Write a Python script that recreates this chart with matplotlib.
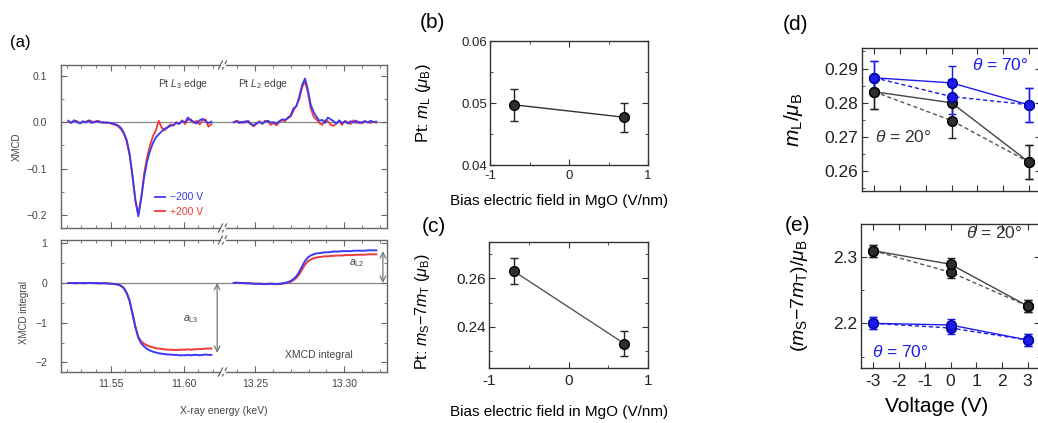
import numpy as np
import matplotlib
matplotlib.use('Agg')
import matplotlib.pyplot as plt
from matplotlib.ticker import MultipleLocator
from matplotlib.lines import Line2D

plt.rcParams['font.family'] = ['Liberation Sans', 'DejaVu Sans']
plt.rcParams['mathtext.fontset'] = 'custom'
plt.rcParams['mathtext.rm'] = 'Liberation Sans'
plt.rcParams['mathtext.it'] = 'Liberation Sans:italic'
plt.rcParams['mathtext.bf'] = 'Liberation Sans:bold'
plt.rcParams['axes.unicode_minus'] = False

W, H = 1038, 423

# ---- (a) XMCD spectra, Pt L3 and L2 edges ----
energy_l3 = np.linspace(11.521, 11.619, 50)
energy_l2 = np.linspace(13.238, 13.318, 51)

xmcd_l3_neg = [0.003, -0.002, 0.004, 0.000, -0.003, 0.002, -0.001, 0.003, -0.002, 0.001,
               0.002, -0.001, 0.000, -0.002, -0.001, -0.003, -0.004, -0.007, -0.012, -0.022,
               -0.038, -0.068, -0.115, -0.170, -0.203, -0.165, -0.118, -0.085, -0.062, -0.045,
               -0.033, -0.026, -0.020, -0.014, -0.012, -0.008, -0.006, -0.002, -0.004, 0.002,
               0.000, 0.010, 0.003, 0.001, -0.003, 0.004, 0.007, 0.002, -0.002, 0.001]
xmcd_l3_pos = [0.001, -0.001, 0.003, 0.002, -0.002, 0.000, 0.001, 0.004, 0.002, -0.001,
               0.003, 0.001, -0.002, 0.000, -0.002, -0.004, -0.006, -0.009, -0.015, -0.025,
               -0.042, -0.072, -0.118, -0.168, -0.198, -0.160, -0.110, -0.075, -0.050, -0.030,
               -0.018, 0.003, -0.012, -0.018, -0.010, -0.005, -0.008, 0.000, -0.003, 0.004,
               -0.004, 0.005, 0.006, -0.002, 0.003, -0.005, 0.004, 0.006, -0.010, -0.004]
xmcd_l2_neg = [0.000, 0.002, -0.002, 0.001, -0.001, 0.003, -0.004, -0.007, -0.002, 0.000,
               -0.003, 0.001, 0.003, -0.001, 0.000, -0.003, 0.002, 0.006, 0.005, 0.008,
               0.015, 0.030, 0.034, 0.055, 0.080, 0.094, 0.070, 0.038, 0.022, 0.012,
               0.003, 0.005, -0.002, 0.010, 0.006, 0.002, -0.003, 0.004, -0.002, 0.001,
               -0.003, 0.002, -0.001, 0.003, -0.002, 0.000, 0.002, -0.001, 0.003, 0.000, 0.001]
xmcd_l2_pos = [-0.001, 0.003, 0.001, -0.002, 0.002, 0.000, -0.005, -0.009, -0.004, 0.002,
               -0.004, 0.003, 0.001, -0.006, -0.002, -0.007, 0.000, 0.004, 0.002, 0.010,
               0.012, 0.025, 0.036, 0.050, 0.075, 0.088, 0.064, 0.030, 0.012, 0.006,
               -0.002, -0.006, 0.004, 0.002, -0.006, -0.008, -0.003, 0.002, -0.006, 0.003,
               0.000, -0.004, 0.004, -0.002, 0.001, -0.003, 0.002, 0.000, -0.002, 0.001, -0.001]

int_l3_neg = [0.00, 0.00, -0.01, 0.00, 0.00, -0.01, 0.00, 0.00, 0.00, -0.01,
              0.00, -0.01, -0.01, -0.01, -0.02, -0.02, -0.03, -0.04, -0.07, -0.13,
              -0.25, -0.45, -0.78, -1.12, -1.38, -1.52, -1.60, -1.66, -1.70, -1.73,
              -1.75, -1.77, -1.78, -1.79, -1.80, -1.80, -1.81, -1.81, -1.82, -1.82,
              -1.82, -1.81, -1.82, -1.81, -1.81, -1.82, -1.81, -1.80, -1.81, -1.81]
int_l3_pos = [0.00, 0.00, 0.00, -0.01, 0.00, 0.00, -0.01, 0.00, 0.00, 0.00,
              -0.01, -0.01, 0.00, -0.01, -0.01, -0.02, -0.03, -0.04, -0.07, -0.13,
              -0.25, -0.45, -0.77, -1.10, -1.36, -1.47, -1.53, -1.57, -1.60, -1.62,
              -1.64, -1.65, -1.66, -1.67, -1.68, -1.68, -1.68, -1.69, -1.68, -1.68,
              -1.68, -1.67, -1.68, -1.67, -1.67, -1.66, -1.66, -1.65, -1.65, -1.65]
int_l2_neg = [0.00, 0.00, 0.00, 0.00, -0.01, -0.01, -0.01, -0.02, -0.02, -0.02,
              -0.03, -0.03, -0.02, -0.02, -0.02, -0.03, -0.02, -0.01, 0.00, 0.02,
              0.05, 0.10, 0.17, 0.28, 0.42, 0.55, 0.64, 0.69, 0.72, 0.74,
              0.75, 0.76, 0.77, 0.77, 0.78, 0.79, 0.79, 0.79, 0.80, 0.80,
              0.80, 0.80, 0.81, 0.81, 0.81, 0.81, 0.81, 0.82, 0.82, 0.82, 0.82]
int_l2_pos = [0.00, 0.01, 0.00, 0.00, 0.00, -0.01, -0.01, -0.02, -0.02, -0.02,
              -0.02, -0.03, -0.03, -0.02, -0.03, -0.03, -0.03, -0.02, -0.01, 0.01,
              0.03, 0.07, 0.13, 0.22, 0.34, 0.46, 0.54, 0.59, 0.62, 0.64,
              0.65, 0.66, 0.67, 0.67, 0.68, 0.68, 0.69, 0.69, 0.69, 0.70,
              0.70, 0.70, 0.70, 0.71, 0.71, 0.71, 0.71, 0.72, 0.72, 0.72, 0.72]

a_l3 = -1.76
a_l2 = 0.80

# ---- (b), (c) Pt moments vs bias field ----
field = [-0.69, 0.70]
pt_ml = [0.0497, 0.0477]
pt_ml_err = [0.0026, 0.0023]
pt_ms = [0.2630, 0.2331]
pt_ms_err = [0.0053, 0.0050]

# ---- (d), (e) moments vs gate voltage ----
voltage = [-3, 0, 3]
ml_20_solid = [0.2832, 0.2800, 0.2627]
ml_20_dash = [0.2832, 0.2748, 0.2627]
ml_70_solid = [0.2873, 0.2858, 0.2794]
ml_70_dash = [0.2873, 0.2818, 0.2794]
ml_err = 0.005
ms_20_solid = [2.309, 2.2886, 2.226]
ms_20_dash = [2.309, 2.2766, 2.226]
ms_70_solid = [2.200, 2.1975, 2.175]
ms_70_dash = [2.200, 2.193, 2.175]
ms_err = 0.009

BLUE_A = '#3a3af2'
RED_A = '#f03a3a'
GRAY_A = '#666666'
BLUE = '#1c1ce8'
DARK = '#2e2e2e'

fig = plt.figure(figsize=(W / 100, H / 100), dpi=100)


def add_ax(l, t, r, b, **kw):
    return fig.add_axes([l / W, 1 - b / H, (r - l) / W, (b - t) / H], **kw)


def style_pair(ax_l, ax_r):
    for ax in (ax_l, ax_r):
        for s in ax.spines.values():
            s.set_color(GRAY_A)
            s.set_linewidth(1.0)
        ax.tick_params(which='both', direction='in', top=True, bottom=True,
                       color=GRAY_A, labelcolor='#444444', labelsize=7.5)
        ax.tick_params(which='major', length=4)
        ax.tick_params(which='minor', length=2)
        ax.xaxis.set_minor_locator(MultipleLocator(0.01))
    ax_l.spines['right'].set_visible(False)
    ax_r.spines['left'].set_visible(False)
    ax_l.tick_params(axis='y', which='both', left=True, right=False, pad=10)
    ax_r.tick_params(axis='y', which='both', left=False, right=True,
                     labelleft=False, labelright=False)
    ax_l.tick_params(axis='x', pad=5)
    ax_r.tick_params(axis='x', pad=5)


def break_marks(xpx, ypx_list):
    for ypx in ypx_list:
        for dx in (-2.5, 1.5):
            x0 = (xpx + dx - 2) / W
            x1 = (xpx + dx + 2) / W
            y0 = 1 - (ypx + 4) / H
            y1 = 1 - (ypx - 4) / H
            fig.add_artist(Line2D([x0, x1], [y0, y1], color=GRAY_A, lw=0.9))
        fig.add_artist(Line2D([(xpx - 1.5) / W, (xpx + 0.5) / W],
                              [1 - ypx / H, 1 - ypx / H], color='white', lw=2))


# (a) top: XMCD
a1l = add_ax(61, 65, 223, 228)
a1r = add_ax(223, 65, 387, 228, sharey=a1l)
for ax, e, yn, yp in ((a1l, energy_l3, xmcd_l3_neg, xmcd_l3_pos),
                      (a1r, energy_l2, xmcd_l2_neg, xmcd_l2_pos)):
    ax.axhline(0, color='#888888', lw=0.9, zorder=1)
    ax.plot(e, yp, color=RED_A, lw=1.3, label='+200 V', zorder=2)
    ax.plot(e, yn, color=BLUE_A, lw=1.3, label='\u2212200 V', zorder=3)
a1l.set_xlim(11.516, 11.627)
a1r.set_xlim(13.232, 13.324)
a1l.set_ylim(-0.228, 0.123)
a1l.set_yticks([-0.2, -0.1, 0.0, 0.1], ['\u22120.2', '\u22120.1', '0.0', '0.1'])
a1l.yaxis.set_minor_locator(MultipleLocator(0.05))
for ax in (a1l, a1r):
    ax.set_xticks([11.55, 11.60] if ax is a1l else [13.25, 13.30])
    ax.tick_params(axis='x', labelbottom=False)
style_pair(a1l, a1r)
a1l.set_ylabel('XMCD', fontsize=7, color='#444444')
a1l.yaxis.set_label_coords(-0.24, 0.5)
a1l.text(11.5996, 0.083, r'Pt $L_3$ edge', fontsize=7.5, color='#444444', ha='center', va='center')
a1r.text(13.2545, 0.083, r'Pt $L_2$ edge', fontsize=7.5, color='#444444', ha='center', va='center')
h, l = a1l.get_legend_handles_labels()
a1l.legend(h[::-1], l[::-1], loc='lower left', bbox_to_anchor=(0.52, 0.01), frameon=False,
           fontsize=7.5, handlelength=1.0, handletextpad=0.5, labelspacing=0.45,
           labelcolor='linecolor')

# (a) bottom: XMCD integral
a2l = add_ax(61, 240, 223, 372)
a2r = add_ax(223, 240, 387, 372, sharey=a2l)
for ax, e, yn, yp in ((a2l, energy_l3, int_l3_neg, int_l3_pos),
                      (a2r, energy_l2, int_l2_neg, int_l2_pos)):
    ax.axhline(0, color='#888888', lw=0.9, zorder=1)
    ax.plot(e, yp, color=RED_A, lw=1.4, zorder=2)
    ax.plot(e, yn, color=BLUE_A, lw=1.4, zorder=3)
a2l.set_xlim(11.516, 11.627)
a2r.set_xlim(13.232, 13.324)
a2l.set_ylim(-2.24, 1.08)
a2l.set_yticks([-2, -1, 0, 1], ['\u22122', '\u22121', '0', '1'])
a2l.yaxis.set_minor_locator(MultipleLocator(0.5))
a2l.set_xticks([11.55, 11.60], ['11.55', '11.60'])
a2r.set_xticks([13.25, 13.30], ['13.25', '13.30'])
style_pair(a2l, a2r)
a2l.set_ylabel('XMCD integral', fontsize=7, color='#444444')
a2l.yaxis.set_label_coords(-0.2, 0.45)
fig.text(224 / W, 1 - 411 / H, 'X-ray energy (keV)', fontsize=7.5, color='#444444',
         ha='center', va='center')
a2l.annotate('', xy=(11.623, a_l3), xytext=(11.623, 0),
             arrowprops=dict(arrowstyle='<->', color='#777777', lw=0.9, shrinkA=0, shrinkB=0))
a2l.text(11.605, -0.9, r'$a_{\mathrm{L3}}$', fontsize=7.5, color='#444444', ha='center', va='center')
a2r.annotate('', xy=(13.3217, a_l2), xytext=(13.3217, 0),
             arrowprops=dict(arrowstyle='<->', color='#777777', lw=0.9, shrinkA=0, shrinkB=0))
a2r.text(13.307, 0.5, r'$a_{\mathrm{L2}}$', fontsize=7.5, color='#444444', ha='center', va='center')
a2r.text(13.286, -1.81, 'XMCD integral', fontsize=7.5, color='#444444', ha='center', va='center')

break_marks(223, [65, 228, 240, 372])
fig.text(10 / W, 1 - 42 / H, '(a)', fontsize=12, ha='left', va='center')


def style_box(ax, labelsize, pad_x, pad_y):
    for s in ax.spines.values():
        s.set_color('#333333')
        s.set_linewidth(1.0)
    ax.tick_params(which='both', direction='in', top=True, right=True, color='#333333',
                   labelcolor='#222222', labelsize=labelsize)
    ax.tick_params(which='major', length=4.5)
    ax.tick_params(which='minor', length=2.5)
    ax.tick_params(axis='x', pad=pad_x)
    ax.tick_params(axis='y', pad=pad_y)


def sphere_errorbar(ax, x, y, err, color, face, edge, ls, dashed=False):
    ax.plot(x, y, color=color, lw=1.0, ls=(0, (3, 2)) if dashed else '-', zorder=2)
    ax.errorbar(x, y, yerr=err, fmt='o', color=face, mfc=face, mec=edge, ms=7,
                ecolor=ls, elinewidth=1.0, capsize=3, capthick=1.0, zorder=3)


# (b) orbital moment
axb = add_ax(490, 41, 648, 165)
sphere_errorbar(axb, field, pt_ml, pt_ml_err, '#333333', DARK, '#000000', '#222222')
axb.set_xlim(-1, 1)
axb.set_ylim(0.04, 0.06)
axb.set_xticks([-1, 0, 1])
axb.set_yticks([0.04, 0.05, 0.06])
axb.xaxis.set_minor_locator(MultipleLocator(0.5))
axb.yaxis.set_minor_locator(MultipleLocator(0.005))
style_box(axb, 9.5, 3.5, 2)
axb.set_ylabel(r'Pt: $m_\mathrm{L}$ ($\mu_\mathrm{B}$)', fontsize=12)
axb.yaxis.set_label_coords(-0.36, 0.5)
axb.set_xlabel('Bias electric field in MgO (V/nm)', fontsize=11)
axb.xaxis.set_label_coords(0.437, -0.235)
fig.text(420 / W, 1 - 23 / H, '(b)', fontsize=15, ha='left', va='center')

# (c) effective spin moment
axc = add_ax(489, 242, 648, 368)
sphere_errorbar(axc, field, pt_ms, pt_ms_err, '#555555', DARK, '#000000', '#222222')
axc.set_xlim(-1, 1)
axc.set_ylim(0.223, 0.275)
axc.set_xticks([-1, 0, 1])
axc.set_yticks([0.24, 0.26])
axc.xaxis.set_minor_locator(MultipleLocator(0.5))
axc.yaxis.set_minor_locator(MultipleLocator(0.01))
style_box(axc, 11, 4, 2)
axc.set_ylabel(r'Pt: $m_\mathrm{S}$$-$7$m_\mathrm{T}$ ($\mu_\mathrm{B}$)', fontsize=11.5)
axc.yaxis.set_label_coords(-0.36, 0.45)
axc.set_xlabel('Bias electric field in MgO (V/nm)', fontsize=11)
axc.xaxis.set_label_coords(0.44, -0.29)
fig.text(422 / W, 1 - 226 / H, '(c)', fontsize=15, ha='left', va='center')

# (d) orbital moment vs voltage
axd = add_ax(862, 48, 1041, 191)
sphere_errorbar(axd, voltage, ml_20_dash, ml_err, '#555555', DARK, '#000000', '#222222', dashed=True)
sphere_errorbar(axd, voltage, ml_20_solid, ml_err, '#444444', DARK, '#000000', '#222222')
sphere_errorbar(axd, voltage, ml_70_dash, ml_err, BLUE, BLUE, '#0000a0', BLUE, dashed=True)
sphere_errorbar(axd, voltage, ml_70_solid, ml_err, BLUE, BLUE, '#0000a0', BLUE)
axd.set_xlim(-3.48, 3.48)
axd.set_ylim(0.2542, 0.296)
axd.set_xticks(range(-3, 4))
axd.set_yticks([0.26, 0.27, 0.28, 0.29])
axd.yaxis.set_minor_locator(MultipleLocator(0.005))
style_box(axd, 12.5, 4, 3)
axd.tick_params(axis='x', labelbottom=False)
axd.set_ylabel(r'$m_\mathrm{L}/\mu_\mathrm{B}$', fontsize=15)
axd.yaxis.set_label_coords(-0.32, 0.5)
axd.text(0.79, 0.291, r'$\theta$ = 70°', fontsize=12.5, color=BLUE, ha='left', va='center')
axd.text(-2.97, 0.2699, r'$\theta$ = 20°', fontsize=12.5, color='#333333', ha='left', va='center')
fig.text(783 / W, 1 - 25 / H, '(d)', fontsize=15, ha='left', va='center')

# (e) effective spin moment vs voltage
axe = add_ax(861, 224, 1040, 368)
sphere_errorbar(axe, voltage, ms_20_dash, ms_err, '#555555', DARK, '#000000', '#222222', dashed=True)
sphere_errorbar(axe, voltage, ms_20_solid, ms_err, '#444444', DARK, '#000000', '#222222')
sphere_errorbar(axe, voltage, ms_70_dash, ms_err, BLUE, BLUE, '#0000a0', BLUE, dashed=True)
sphere_errorbar(axe, voltage, ms_70_solid, ms_err, BLUE, BLUE, '#0000a0', BLUE)
axe.set_xlim(-3.48, 3.48)
axe.set_ylim(2.133, 2.349)
axe.set_xticks(range(-3, 4))
axe.set_yticks([2.2, 2.3])
axe.yaxis.set_minor_locator(MultipleLocator(0.05))
style_box(axe, 12.5, 4, 3)
axe.set_ylabel(r'($m_\mathrm{S}$$-$7$m_\mathrm{T}$)/$\mu_\mathrm{B}$', fontsize=14)
axe.yaxis.set_label_coords(-0.285, 0.5)
axe.set_xlabel('Voltage (V)', fontsize=15)
axe.xaxis.set_label_coords(0.42, -0.2)
axe.text(0.59, 2.3356, r'$\theta$ = 20°', fontsize=12.5, color='#333333', ha='left', va='center')
axe.text(-3.04, 2.157, r'$\theta$ = 70°', fontsize=12.5, color=BLUE, ha='left', va='center')
fig.text(785 / W, 1 - 225 / H, '(e)', fontsize=15, ha='left', va='center')

fig.savefig('out.png', dpi=100)
